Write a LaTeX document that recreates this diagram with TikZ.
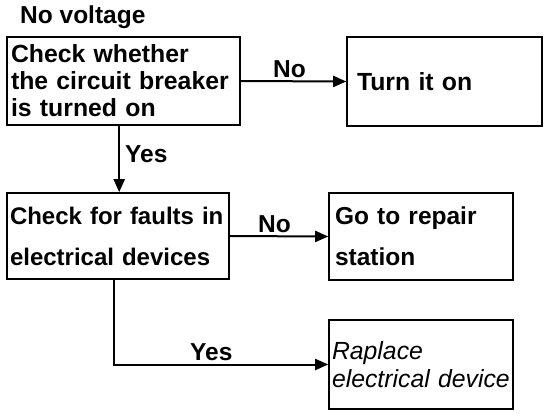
\documentclass[tikz,border=0pt]{standalone}
\usepackage{fontspec}
\setmainfont{Liberation Sans}
\usetikzlibrary{arrows.meta}
\begin{document}
\begin{tikzpicture}[x=1pt,y=-1pt,
  box/.style={draw, line width=1.6pt, rectangle, inner xsep=6pt, inner ysep=0pt, align=left},
  lbl/.style={inner sep=0pt, anchor=base west, font=\fontsize{24.5}{27}\selectfont\bfseries},
  conn/.style={line width=2pt, -{Triangle[length=13pt,width=11pt]}}]
\useasboundingbox (0,0) rectangle (551,416);
\node[lbl] (title) at (20,23) {No voltage};
\node[box, minimum width=233pt, minimum height=88pt, text width=225pt, inner xsep=4pt,
  font=\fontsize{24.8}{27}\selectfont\bfseries] (b1) at (123.5,81) {Check whether\\the circuit breaker\\is turned on};
\node[box, minimum width=195pt, minimum height=89pt, text width=175pt, inner xsep=10pt,
  font=\fontsize{24.8}{27}\selectfont\bfseries] (b2) at (444.5,81.5) {Turn it on};
\node[box, minimum width=222pt, minimum height=86pt, text width=216pt, inner xsep=3pt,
  font=\fontsize{24}{41}\selectfont\bfseries] (b3) at (118,236) {Check for faults in\\electrical devices};
\node[box, minimum width=184pt, minimum height=87pt, text width=172pt,
  font=\fontsize{24.5}{41}\selectfont\bfseries] (b4) at (421,236.5) {Go to repair\\station};
\node[box, minimum width=184pt, minimum height=89pt, text width=178pt, inner xsep=3pt,
  font=\fontsize{24.8}{28}\selectfont\itshape] (b5) at (421,364.5) {Raplace\\electrical device};
\draw[conn] (b1.east) -- (b2.west);
\draw[conn] ([xshift=113pt]b1.south west) -- ([xshift=113pt]b1.south west |- b3.north);
\draw[conn] (b3.east) -- (b4.west);
\draw[conn] ([xshift=108pt]b3.south west) |- (b5.west);
\node[lbl] (no1) at (273,77) {No};
\node[lbl] (yes1) at (125,162) {Yes};
\node[lbl] (no2) at (258,232) {No};
\node[lbl] (yes2) at (190,360) {Yes};
\end{tikzpicture}
\end{document}
